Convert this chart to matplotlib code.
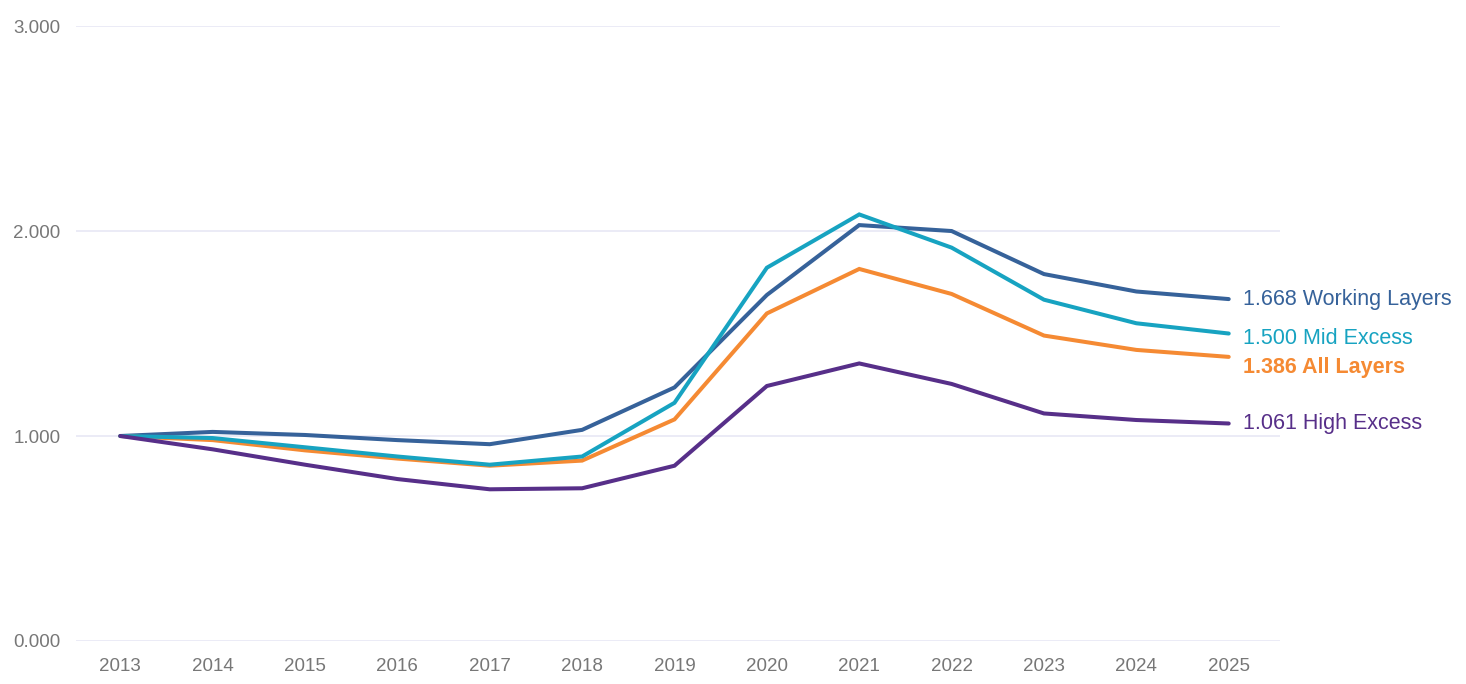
import matplotlib.pyplot as plt

years = list(range(2013, 2026))

working_layers = [1.000, 1.020, 1.005, 0.980, 0.960, 1.030, 1.237, 1.688, 2.029, 2.000, 1.790, 1.705, 1.668]
mid_excess = [1.000, 0.990, 0.945, 0.900, 0.860, 0.900, 1.162, 1.821, 2.081, 1.919, 1.665, 1.550, 1.500]
all_layers = [1.000, 0.980, 0.930, 0.890, 0.855, 0.880, 1.081, 1.598, 1.815, 1.693, 1.490, 1.420, 1.386]
high_excess = [1.000, 0.935, 0.860, 0.790, 0.740, 0.745, 0.855, 1.244, 1.354, 1.254, 1.110, 1.078, 1.061]

series = [
    ("Working Layers", working_layers, "#36629a", "normal", 0),
    ("All Layers", all_layers, "#f58a33", "bold", -7.5),
    ("Mid Excess", mid_excess, "#17a3c1", "normal", -3.5),
    ("High Excess", high_excess, "#572f89", "normal", 0),
]

plt.rcParams["font.family"] = ["Liberation Sans", "DejaVu Sans"]

fig = plt.figure(figsize=(14.66, 6.84), dpi=100)
ax = fig.add_axes([0.0518, 0.0629, 0.821, 0.899])

for name, vals, color, weight, dy in series:
    ax.plot(years, vals, color=color, linewidth=2.9, solid_capstyle="round", solid_joinstyle="miter")
    ax.annotate(f"{vals[-1]:.3f} {name}", xy=(years[-1], vals[-1]), xytext=(10, dy),
                textcoords="offset points", va="center", ha="left", fontsize=15.5,
                color=color, fontweight=weight, annotation_clip=False)

ax.set_xlim(2012.52, 2025.55)
ax.set_ylim(0, 3)
ax.set_yticks([0, 1, 2, 3])
ax.set_yticklabels(["0.000", "1.000", "2.000", "3.000"])
ax.set_xticks(years)
ax.grid(axis="y", color="#e9e9f6", linewidth=1.3)
ax.set_axisbelow(True)
for s in ax.spines.values():
    s.set_visible(False)
ax.tick_params(axis="both", length=0, labelsize=13.5, labelcolor="#777777")
ax.tick_params(axis="y", pad=11)
ax.tick_params(axis="x", pad=12)

fig.savefig("out.png", dpi=100)
